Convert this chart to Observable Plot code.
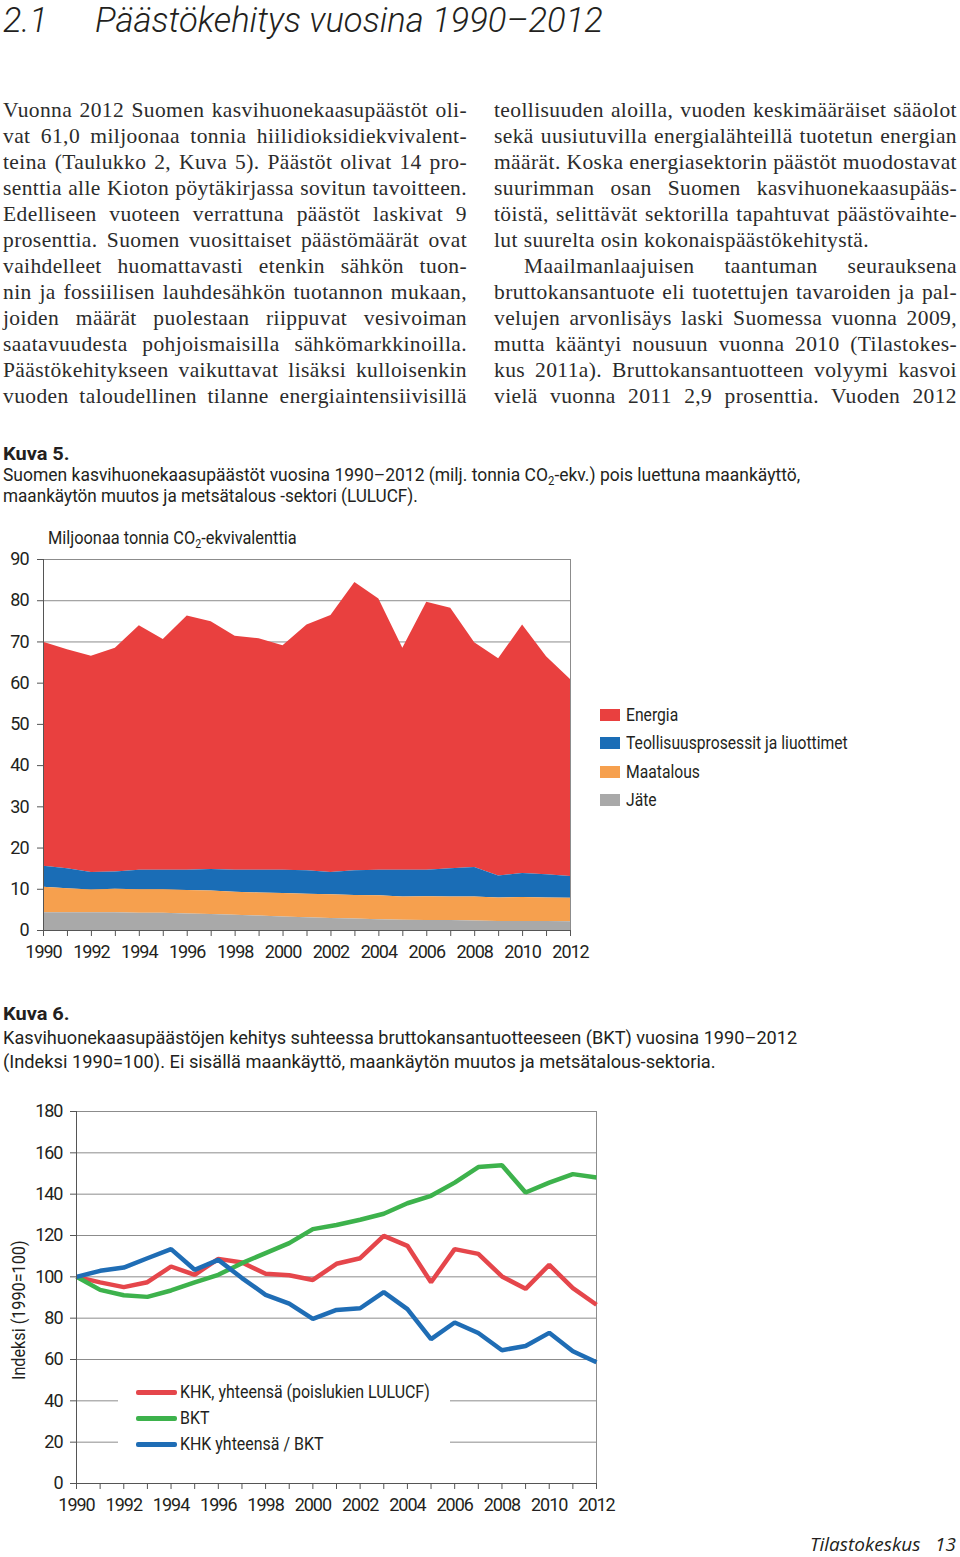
<!DOCTYPE html>
<html><head><meta charset="utf-8">
<script src="https://cdn.jsdelivr.net/npm/d3@7"></script>
<script src="https://cdn.jsdelivr.net/npm/@observablehq/plot@0.6"></script>
<style>
html,body{margin:0;padding:0;background:#fff;}
body{width:960px;height:1557px;position:relative;overflow:hidden;color:#231f20;}
.abs{position:absolute;}
.title{font-family:Roboto,"Open Sans",sans-serif;font-style:italic;font-weight:300;font-size:35px;white-space:nowrap;line-height:normal;}
.col{font-family:"Liberation Serif",serif;font-size:21.5px;letter-spacing:0.4px;line-height:26px;color:#2b2b2b;}
.col div{white-space:nowrap;height:26px;}
.col .j{display:inline-block;}
.narrow{font-family:Roboto,sans-serif;}
.fit{display:inline-block;transform-origin:0 50%;white-space:nowrap;}
.cap{font-size:18.5px;line-height:21px;white-space:nowrap;}
.cap b{font-weight:bold;}
sub{font-size:0.65em;vertical-align:-0.35em;line-height:0;}
.leg1 div{position:absolute;left:0;height:20px;font-size:19px;line-height:20px;white-space:nowrap;}
.leg1 span.sw{position:absolute;left:0;top:4px;width:20px;height:12px;}
.leg1 span.tx{position:absolute;left:26px;top:0;transform-origin:0 50%;}
.leg2{background:#fff;}
.leg2 div{position:absolute;left:0;height:24px;font-size:19px;line-height:24px;white-space:nowrap;}
.leg2 span.ln{position:absolute;left:18px;top:10px;width:41px;height:4.5px;border-radius:2px;}
.leg2 span.tx{position:absolute;left:62px;top:0;transform-origin:0 50%;}
.foot{font-family:"Open Sans",sans-serif;font-style:italic;font-size:19px;white-space:nowrap;line-height:20px;}
</style>
</head>
<body>
<div class="abs title" style="left:3px;top:0px;"><span class="fit" data-fit="45">2.1</span></div>
<div class="abs title" style="left:95px;top:0px;"><span class="fit" data-fit="508">Päästökehitys vuosina 1990–2012</span></div>

<div class="abs col" id="colL" style="left:3px;top:97px;width:464px;">
<div><span class="j">Vuonna 2012 Suomen kasvihuonekaasupäästöt oli-</span></div>
<div><span class="j">vat 61,0 miljoonaa tonnia hiilidioksidiekvivalent-</span></div>
<div><span class="j">teina (Taulukko 2, Kuva 5). Päästöt olivat 14 pro-</span></div>
<div><span class="j">senttia alle Kioton pöytäkirjassa sovitun tavoitteen.</span></div>
<div><span class="j">Edelliseen vuoteen verrattuna päästöt laskivat 9</span></div>
<div><span class="j">prosenttia. Suomen vuosittaiset päästömäärät ovat</span></div>
<div><span class="j">vaihdelleet huomattavasti etenkin sähkön tuon-</span></div>
<div><span class="j">nin ja fossiilisen lauhdesähkön tuotannon mukaan,</span></div>
<div><span class="j">joiden määrät puolestaan riippuvat vesivoiman</span></div>
<div><span class="j">saatavuudesta pohjoismaisilla sähkömarkkinoilla.</span></div>
<div><span class="j">Päästökehitykseen vaikuttavat lisäksi kulloisenkin</span></div>
<div><span class="j">vuoden taloudellinen tilanne energiaintensiivisillä</span></div>
</div>

<div class="abs col" id="colR" style="left:494px;top:97px;width:463px;">
<div><span class="j">teollisuuden aloilla, vuoden keskimääräiset sääolot</span></div>
<div><span class="j">sekä uusiutuvilla energialähteillä tuotetun energian</span></div>
<div><span class="j">määrät. Koska energiasektorin päästöt muodostavat</span></div>
<div><span class="j">suurimman osan Suomen kasvihuonekaasupääs-</span></div>
<div><span class="j">töistä, selittävät sektorilla tapahtuvat päästövaihte-</span></div>
<div><span>lut suurelta osin kokonaispäästökehitystä.</span></div>
<div style="padding-left:30px;"><span class="j" data-w="433">Maailmanlaajuisen taantuman seurauksena</span></div>
<div><span class="j">bruttokansantuote eli tuotettujen tavaroiden ja pal-</span></div>
<div><span class="j">velujen arvonlisäys laski Suomessa vuonna 2009,</span></div>
<div><span class="j">mutta kääntyi nousuun vuonna 2010 (Tilastokes-</span></div>
<div><span class="j">kus 2011a). Bruttokansantuotteen volyymi kasvoi</span></div>
<div><span class="j">vielä vuonna 2011 2,9 prosenttia. Vuoden 2012</span></div>
</div>

<div class="abs narrow cap" style="left:3px;top:444px;">
<div><span class="fit" data-fit="67"><b>Kuva 5.</b></span></div>
<div><span class="fit" data-fit="797">Suomen kasvihuonekaasupäästöt vuosina 1990–2012 (milj. tonnia CO<sub>2</sub>-ekv.) pois luettuna maankäyttö,</span></div>
<div><span class="fit" data-fit="415">maankäytön muutos ja metsätalous -sektori (LULUCF).</span></div>
</div>

<div class="abs" id="chart1" style="left:0;top:520px;"></div>
<div class="abs narrow" style="left:48px;top:527px;font-size:19px;line-height:22px;white-space:nowrap;"><span class="fit" data-fit="249">Miljoonaa tonnia CO<sub>2</sub>-ekvivalenttia</span></div>
<div class="abs narrow leg1" id="leg1" style="left:600px;top:705px;width:300px;height:120px;"></div>

<div class="abs narrow cap" style="left:3px;top:1002px;line-height:24px;">
<div><span class="fit" data-fit="67"><b>Kuva 6.</b></span></div>
<div><span class="fit" data-fit="794">Kasvihuonekaasupäästöjen kehitys suhteessa bruttokansantuotteeseen (BKT) vuosina 1990–2012</span></div>
<div><span class="fit" data-fit="713">(Indeksi 1990=100). Ei sisällä maankäyttö, maankäytön muutos ja metsätalous-sektoria.</span></div>
</div>

<div class="abs" id="chart2" style="left:0;top:1090px;"></div>
<div class="abs narrow" id="ylab2" style="left:19px;top:1310px;font-size:19px;line-height:20px;white-space:nowrap;transform-origin:0 0;">Indeksi (1990=100)</div>
<div class="abs narrow leg2" id="leg2" style="left:118px;top:1375px;width:332px;height:86px;"></div>

<div class="abs foot" style="left:810px;top:1534px;">Tilastokeskus</div>
<div class="abs foot" style="left:935px;top:1534px;">13</div>

<script>
// ---------- Data: Kuva 5 (milj. t CO2-ekv.) ----------
const years = [1990,1991,1992,1993,1994,1995,1996,1997,1998,1999,2000,2001,2002,2003,2004,2005,2006,2007,2008,2009,2010,2011,2012];
const labelYears = [1990,1992,1994,1996,1998,2000,2002,2004,2006,2008,2010,2012];
const sectors = ["Energia","Teollisuusprosessit ja liuottimet","Maatalous","Jäte"];
const sectorColors = ["#e9403f","#1a6db6","#f6a04e","#a9a9a9"];
const stackOrder = ["Jäte","Maatalous","Teollisuusprosessit ja liuottimet","Energia"];
const energia    = [54.3,53.1,52.4,54.3,59.3,56.0,61.7,60.1,56.8,56.2,54.5,59.6,62.3,69.9,65.8,53.9,65.0,63.2,54.5,52.7,60.3,52.9,47.8];
const teollisuus = [5.1,4.9,4.3,4.2,4.7,4.7,4.9,5.2,5.3,5.5,5.6,5.7,5.4,6.0,6.2,6.5,6.4,6.9,7.2,5.3,5.8,5.6,5.3];
const maatalous  = [6.2,5.8,5.5,5.7,5.7,5.7,5.7,5.7,5.6,5.6,5.7,5.7,5.8,5.7,5.8,5.6,5.8,5.7,5.8,5.7,5.8,5.7,5.7];
const jate       = [4.3,4.3,4.3,4.3,4.2,4.2,4.0,3.9,3.7,3.5,3.3,3.1,2.9,2.8,2.6,2.5,2.4,2.4,2.3,2.2,2.2,2.2,2.1];
const yTicks1 = [0,10,20,30,40,50,60,70,80,90];

// ---------- Data: Kuva 6 (Indeksi 1990=100) ----------
const seriesNames = ["KHK, yhteensä (poislukien LULUCF)","BKT","KHK yhteensä / BKT"];
const seriesColors = ["#e5464b","#3db24c","#1f6db5"];
const khk       = [100,97.3,95.0,97.4,105.0,101.0,108.7,106.9,101.5,100.8,98.5,106.3,109.0,119.8,115.0,97.4,113.4,111.1,100.2,94.2,105.8,94.5,86.5];
const bkt       = [100,93.7,91.1,90.3,93.4,97.3,101.0,106.6,111.5,116.3,123.1,125.1,127.6,130.5,135.6,139.2,145.6,153.1,154.0,140.8,145.6,149.7,148.1];
const khkPerBkt = [100,102.9,104.5,109.0,113.4,103.4,108.2,99.4,91.3,87.0,79.7,84.0,84.8,92.6,84.4,69.9,77.9,72.8,64.5,66.5,72.9,64.0,58.7];
const yTicks2 = [0,20,40,60,80,100,120,140,160,180];

const tickStyle = {fontFamily: "Roboto, sans-serif", fontSize: "18px", letterSpacing: "-1px", color: "#231f20", background: "transparent"};
const fmtYear = d => labelYears.includes(d) ? String(d) : "";

// Chart 1
const sectorSeries = [energia, teollisuus, maatalous, jate];
const rows1 = [];
sectors.forEach((s, i) => years.forEach((yr, j) => rows1.push({year: yr, sector: s, value: sectorSeries[i][j]})));

const chart1 = Plot.plot({
  width: 960, height: 450,
  marginLeft: 43, marginRight: 390, marginTop: 39, marginBottom: 40,
  x: {domain: [1990, 2012]},
  y: {domain: [0, 90]},
  color: {domain: sectors, range: sectorColors},
  style: tickStyle,
  marks: [
    Plot.gridY(yTicks1.slice(1), {stroke: "#8c8c8c", strokeOpacity: 1}),
    Plot.areaY(rows1, {x: "year", y: "value", fill: "sector", order: stackOrder}),
    Plot.ruleX([2012], {stroke: "#8c8c8c"}),
    Plot.axisY({ticks: yTicks1, tickSize: 6, tickPadding: 9, label: null, stroke: "#555"}),
    Plot.axisX({ticks: years, tickFormat: fmtYear, tickSize: 6, tickPadding: 9, label: null, stroke: "#555"}),
    Plot.ruleX([1990], {stroke: "#555"}),
    Plot.ruleY([0], {stroke: "#555"})
  ]
});
document.getElementById("chart1").appendChild(chart1);

// Legend 1
const leg1 = document.getElementById("leg1");
sectors.forEach((s, i) => {
  const d = document.createElement("div");
  d.style.top = (i * 28.3) + "px";
  d.innerHTML = `<span class="sw" style="background:${sectorColors[i]}"></span><span class="tx">${s}</span>`;
  leg1.appendChild(d);
});

// Chart 2
const seriesValues = [khk, bkt, khkPerBkt];
const rows2 = [];
seriesNames.forEach((s, i) => years.forEach((yr, j) => rows2.push({year: yr, series: s, value: seriesValues[i][j]})));

const chart2 = Plot.plot({
  width: 960, height: 440,
  marginLeft: 76, marginRight: 364, marginTop: 21, marginBottom: 47,
  x: {domain: [1990, 2012]},
  y: {domain: [0, 180]},
  color: {domain: seriesNames, range: seriesColors},
  style: tickStyle,
  marks: [
    Plot.gridY(yTicks2.slice(1), {stroke: "#8c8c8c", strokeOpacity: 1}),
    Plot.ruleX([2012], {stroke: "#8c8c8c"}),
    Plot.lineY(rows2, {x: "year", y: "value", stroke: "series", strokeWidth: 4.5, strokeLinejoin: "miter", strokeLinecap: "butt"}),
    Plot.axisY({ticks: yTicks2, tickSize: 6, tickPadding: 8, stroke: "#555", label: null}),
    Plot.axisX({ticks: years, tickFormat: fmtYear, tickSize: 6, tickPadding: 9, label: null, stroke: "#555"}),
    Plot.ruleX([1990], {stroke: "#555"}),
    Plot.ruleY([0], {stroke: "#555"})
  ]
});
document.getElementById("chart2").appendChild(chart2);

// Legend 2
const leg2 = document.getElementById("leg2");
seriesNames.forEach((s, i) => {
  const d = document.createElement("div");
  d.style.top = (5 + i * 26) + "px";
  d.innerHTML = `<span class="ln" style="background:${seriesColors[i]}"></span><span class="tx">${s}</span>`;
  leg2.appendChild(d);
});

function layoutText() {
  // justify body lines
  document.querySelectorAll(".col .j").forEach(el => {
    const W = el.dataset.w ? +el.dataset.w : el.closest(".col").clientWidth;
    el.style.wordSpacing = "0px";
    const w = el.getBoundingClientRect().width;
    const n = (el.textContent.match(/ /g) || []).length;
    if (n) el.style.wordSpacing = ((W - w) / n) + "px";
  });
  // condensed caption / label texts
  document.querySelectorAll(".fit").forEach(el => {
    el.style.transform = "none";
    const w = el.offsetWidth;
    el.style.transform = `scaleX(${(+el.dataset.fit) / w})`;
  });
  // legend groups: one common factor from the longest entry
  [["#leg1 .tx", 222], ["#leg2 .tx", 250]].forEach(([sel, target]) => {
    const els = [...document.querySelectorAll(sel)];
    els.forEach(e => e.style.transform = "none");
    const maxW = Math.max(...els.map(e => e.offsetWidth));
    els.forEach(e => e.style.transform = `scaleX(${target / maxW})`);
  });
  // rotated y label of chart 2: centred at (19, 1310), length 140
  const yl = document.getElementById("ylab2");
  yl.style.transform = "none";
  const w = yl.offsetWidth, h = yl.offsetHeight;
  const k = 140 / w;
  yl.style.transform = `translate(${-h / 2}px, ${w * k / 2}px) rotate(-90deg) scaleX(${k})`;
}
layoutText();
if (document.fonts && document.fonts.ready) document.fonts.ready.then(layoutText);
</script>
</body></html>
